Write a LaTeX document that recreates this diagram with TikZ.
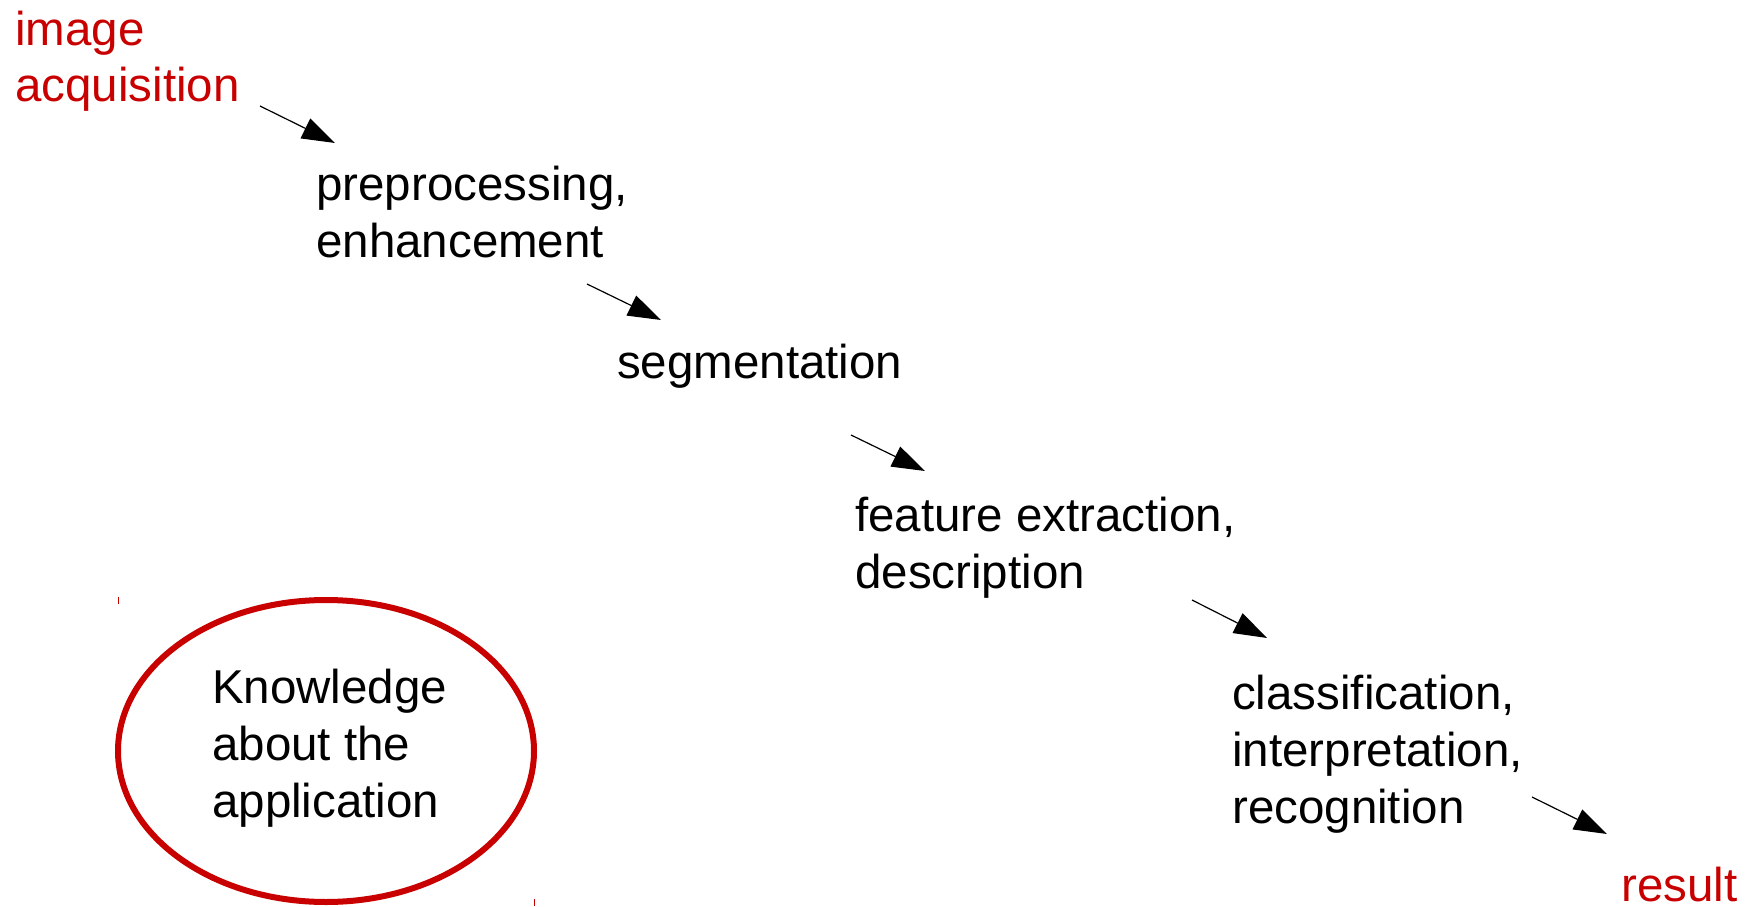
\documentclass[tikz,border=0pt]{standalone}
\usepackage{fontspec}
\setmainfont{Liberation Sans}
\usetikzlibrary{arrows.meta,shapes.geometric}
\definecolor{dred}{RGB}{200,0,0}
\tikzset{
  lbl1/.style={inner sep=0pt, anchor=base west, font=\fontsize{47.5}{57}\selectfont},
  lbl/.style={lbl1, align=left},
  redlbl/.style={lbl, text=dred},
  redlbl1/.style={lbl1, text=dred},
  flow/.style={line width=1.2pt, -{Triangle[length=33pt,width=22pt]}},
  tick/.style={draw=dred, line width=1pt}
}
\begin{document}
\begin{tikzpicture}[x=1pt,y=-1pt]
\useasboundingbox (0,0) rectangle (1746,907);
% base anchor of multi-line nodes = baseline of last line
\node[redlbl] (acq) at (15,102) {image\\acquisition};
\node[lbl] (pre) at (316,257) {preprocessing,\\enhancement};
\node[lbl1] (seg) at (617,378) {segmentation};
\node[lbl] (feat) at (855,588) {feature extraction,\\description};
\node[lbl] (cls) at (1232,823) {classification,\\interpretation,\\recognition};
\node[redlbl1] (res) at (1621,901) {result};
\node[draw=dred, line width=6pt, ellipse, inner sep=0pt, minimum width=416pt, minimum height=302pt] (know) at (326,751) {};
\node[lbl] (knowtxt) at (212,817) {Knowledge\\about the\\application};
\draw[tick] (118,597) -- (118,604);
\draw[tick] (534,899) -- (534,906);
\coordinate (a1s) at (260,106); \coordinate (a1e) at (335,143);
\coordinate (a2s) at (587,284); \coordinate (a2e) at (661,320);
\coordinate (a3s) at (851,435); \coordinate (a3e) at (925,471);
\coordinate (a4s) at (1192,600); \coordinate (a4e) at (1267,638);
\coordinate (a5s) at (1532,797); \coordinate (a5e) at (1607,834);
\draw[flow] (a1s) -- (a1e);
\draw[flow] (a2s) -- (a2e);
\draw[flow] (a3s) -- (a3e);
\draw[flow] (a4s) -- (a4e);
\draw[flow] (a5s) -- (a5e);
\end{tikzpicture}
\end{document}
